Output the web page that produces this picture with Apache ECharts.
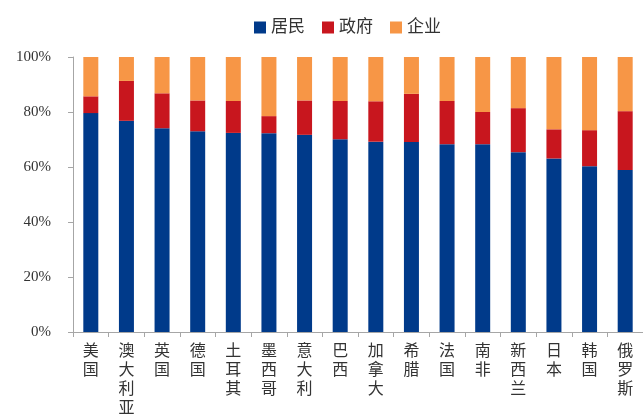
<!DOCTYPE html>
<html><head><meta charset="utf-8">
<script src="https://cdn.jsdelivr.net/npm/echarts@6/dist/echarts.min.js"></script>
<style>html,body{margin:0;padding:0;background:#fff}#c{width:643px;height:417px}</style>
</head><body><div id="c"></div>
<script>
const categories = ['美国','澳大利亚','英国','德国','土耳其','墨西哥','意大利','巴西','加拿大','希腊','法国','南非','新西兰','日本','韩国','俄罗斯'];
const residents = [79.6, 76.8, 74.1, 73.0, 72.4, 72.3, 71.7, 70.1, 69.2, 69.1, 68.3, 68.3, 65.4, 63.1, 60.3, 58.9];
const government = [6.1, 14.5, 12.7, 11.2, 11.6, 6.2, 12.5, 13.9, 14.7, 17.5, 15.7, 11.7, 16.0, 10.6, 13.1, 21.4];
const enterprise = [14.3, 8.7, 13.2, 15.8, 16.0, 21.5, 15.8, 16.0, 16.1, 13.4, 16.0, 20.0, 18.6, 26.3, 26.6, 19.7];
const seriesNames = ['居民','政府','企业'];
const yTicks = [0, 20, 40, 60, 80, 100];

const font = '"Liberation Serif","DejaVu Serif","Noto Sans CJK SC",serif';
const colors = ['#003A8A','#C8161E','#F79646'];
const chart = echarts.init(document.getElementById('c'));
chart.setOption({
  animation: false,
  color: colors,
  textStyle: {fontFamily: font},
  legend: {
    top: 14, left: 249,
    itemWidth: 12, itemHeight: 12, itemGap: 17,
    icon: 'rect',
    textStyle: {fontSize: 17, color: '#333', fontFamily: font}
  },
  grid: {left: 73, right: 0, top: 57, bottom: 85, containLabel: false, outerBoundsMode: 'none'},
  xAxis: {
    type: 'category', data: categories,
    axisLine: {lineStyle: {color: '#A6A6A6'}},
    axisTick: {show: true, length: 5, alignWithLabel: false, lineStyle: {color: '#A6A6A6'}},
    axisLabel: {
      interval: 0, margin: 10, fontSize: 16, lineHeight: 19, color: '#333', fontFamily: font,
      formatter: v => v.split('').join('\n'), verticalAlign: 'top'
    }
  },
  yAxis: {
    type: 'value', min: yTicks[0], max: yTicks[yTicks.length-1], interval: 20,
    splitLine: {show: false},
    axisLine: {show: true, lineStyle: {color: '#A6A6A6'}},
    axisTick: {show: true, length: 5, lineStyle: {color: '#A6A6A6'}},
    axisLabel: {formatter: '{value}%', fontSize: 15, color: '#333', margin: 22, fontFamily: font}
  },
  series: [residents, government, enterprise].map((d, i) => ({
    name: seriesNames[i], type: 'bar', stack: 'total', data: d, barWidth: 15
  }))
});
</script></body></html>
